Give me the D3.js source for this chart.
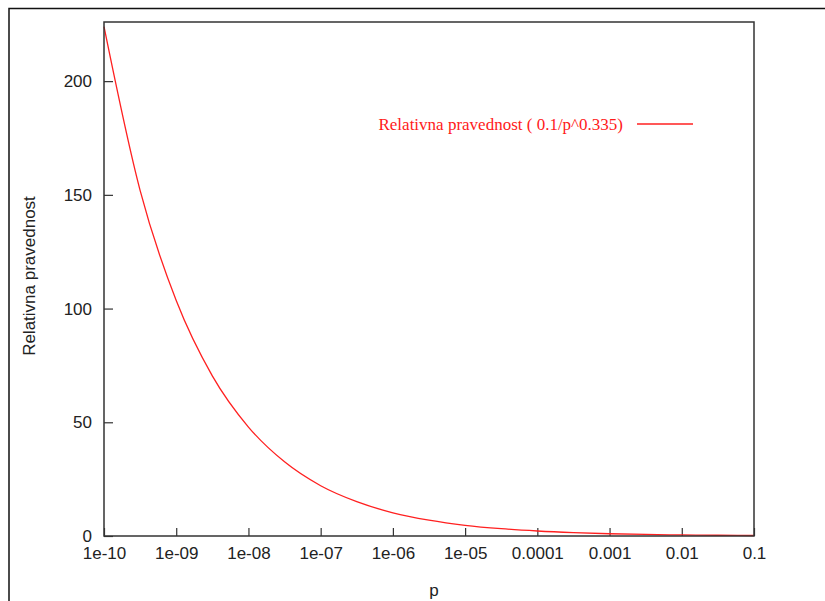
<!DOCTYPE html>
<html>
  <head>
    <meta charset="utf-8">
    <title>Relativna pravednost</title>
    <style>
      body { margin: 0; background: #fff; }
    </style>
  </head>
  <body>
    <script src="https://d3js.org/d3.v7.min.js"></script>
    <svg id="chart" width="825" height="601" style="display:block"></svg>
    <script>
      // values
      const pValues = [1e-10, 3.16e-10, 1e-9, 3.16e-9, 1e-8, 3.16e-8, 1e-7, 3.16e-7, 1e-6, 3.16e-6,
                       1e-5, 3.16e-5, 1e-4, 3.16e-4, 1e-3, 3.16e-3, 0.01, 0.0316, 0.1]
      const fairness = [224, 152, 103.5, 70.4, 47.9, 32.6, 22.1, 15.1, 10.2, 6.96,
                        4.7, 3.22, 2.2, 1.49, 1.0, 0.69, 0.47, 0.32, 0.22]
      const xTicks = [1e-10, 1e-9, 1e-8, 1e-7, 1e-6, 1e-5, 1e-4, 1e-3, 1e-2, 1e-1]
      const xTickLabels = ['1e-10', '1e-09', '1e-08', '1e-07', '1e-06', '1e-05', '0.0001', '0.001', '0.01', '0.1']
      const yTicks = [0, 50, 100, 150, 200]
      const legendLabel = 'Relativna pravednost ( 0.1/p^0.335)'

      const sans = '"Liberation Sans", Arial, sans-serif'
      const serif = '"Liberation Serif", "Times New Roman", serif'
      const plotLeft = 104, plotRight = 754, plotTop = 22, plotBottom = 536
      const svg = d3.select('#chart')

      // outer frame (top and left edge only)
      svg.append('path')
        .attr('d', 'M9,601 V8.5 H825')
        .attr('fill', 'none')
        .attr('stroke', '#111')
        .attr('stroke-width', 1.5)

      const x = d3.scaleLog().domain([1e-10, 0.1]).range([plotLeft, plotRight])
      const y = d3.scaleLinear().domain([0, 226]).range([plotBottom, plotTop])

      // x axis, ticks point inward
      const xAxis = svg.append('g')
        .attr('transform', `translate(0,${plotBottom})`)
        .call(d3.axisBottom(x).tickValues(xTicks)
          .tickFormat((d, i) => xTickLabels[i])
          .tickSizeInner(-8).tickSizeOuter(0).tickPadding(11))
      xAxis.select('.domain').remove()
      xAxis.selectAll('line').attr('stroke', '#333').attr('stroke-width', 1.2)
      xAxis.selectAll('text').style('font-size', '17px').style('font-family', sans).attr('fill', '#222')

      const yAxis = svg.append('g')
        .attr('transform', `translate(${plotLeft},0)`)
        .call(d3.axisLeft(y).tickValues(yTicks)
          .tickSizeInner(-9).tickSizeOuter(0).tickPadding(12))
      yAxis.select('.domain').remove()
      yAxis.selectAll('line').attr('stroke', '#333').attr('stroke-width', 1.2)
      yAxis.selectAll('text').style('font-size', '17px').style('font-family', sans).attr('fill', '#222')

      // curve
      const line = d3.line()
        .x((d, i) => x(pValues[i]))
        .y(d => y(d))
        .curve(d3.curveMonotoneX)
      svg.append('path')
        .datum(fairness)
        .attr('d', line)
        .attr('fill', 'none')
        .attr('stroke', '#ff2020')
        .attr('stroke-width', 1.3)

      // plot border
      svg.append('rect')
        .attr('x', plotLeft).attr('y', plotTop)
        .attr('width', plotRight - plotLeft).attr('height', plotBottom - plotTop)
        .attr('fill', 'none')
        .attr('stroke', '#333')
        .attr('stroke-width', 1.5)

      // legend
      svg.append('text')
        .attr('x', 623).attr('y', 130)
        .attr('text-anchor', 'end')
        .style('font-family', serif)
        .style('font-size', '17px')
        .attr('fill', '#ff1a1a')
        .text(legendLabel)
      svg.append('line')
        .attr('x1', 637).attr('x2', 693)
        .attr('y1', 124).attr('y2', 124)
        .attr('stroke', '#ff2020')
        .attr('stroke-width', 1.3)

      // axis labels
      svg.append('text')
        .attr('x', 434).attr('y', 596)
        .attr('text-anchor', 'middle')
        .style('font-family', sans)
        .style('font-size', '17px')
        .attr('fill', '#222')
        .text('p')
      svg.append('text')
        .attr('transform', 'translate(35,276) rotate(-90)')
        .attr('text-anchor', 'middle')
        .style('font-family', sans)
        .style('font-size', '17px')
        .attr('fill', '#222')
        .text('Relativna pravednost')
    </script>
  </body>
</html>
